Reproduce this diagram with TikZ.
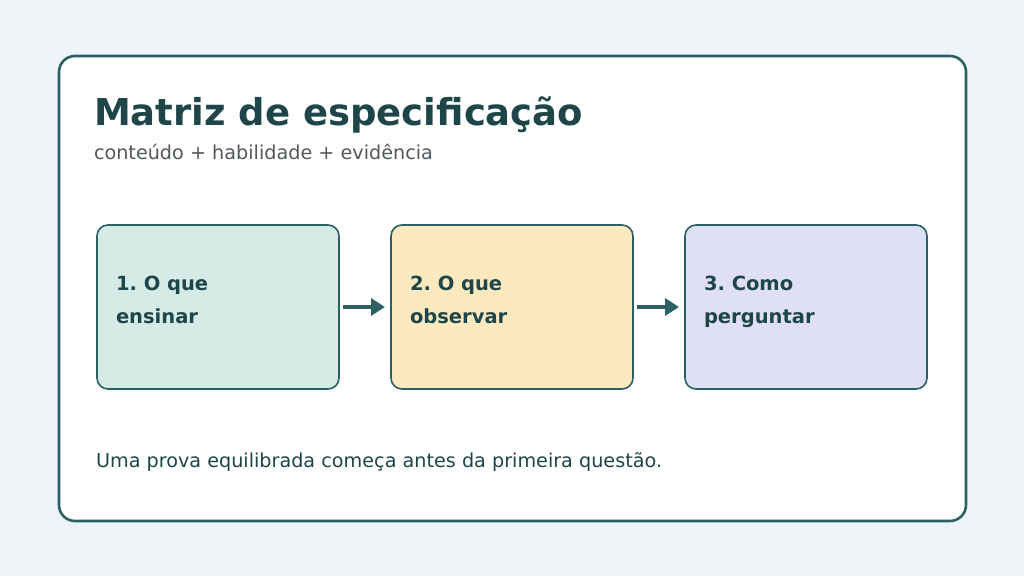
\documentclass[tikz,border=0pt]{standalone}
\usepackage{fontspec}
\setmainfont{DejaVu Sans}
\frenchspacing
\usetikzlibrary{positioning,arrows.meta}

\definecolor{pagebg}{HTML}{EEF4F8}
\definecolor{edge}{HTML}{2D6062}
\definecolor{ink}{HTML}{1E4548}
\definecolor{muted}{HTML}{52585C}
\definecolor{mint}{HTML}{D5EBE6}
\definecolor{sand}{HTML}{FDE9BF}
\definecolor{lilac}{HTML}{E0E0F5}

\begin{document}
\begin{tikzpicture}[
x=1pt, y=-1pt,
node distance=52pt,
every node/.style={inner sep=0pt, outer sep=0pt},
stepbox/.style={
draw=edge,
line width=1.6pt,
rounded corners=11pt,
minimum width=242pt,
minimum height=164pt
},
steptext/.style={
text=ink,
font=\bfseries\fontsize{19.5}{33}\selectfont,
align=left,
anchor=base west
},
flow/.style={
->,
draw=edge,
line width=4.5pt,
shorten <=4pt,
shorten >=6pt
},
>={Triangle[length=14pt,width=17pt]}
]

% page and panel
\fill[pagebg] (0,0) rectangle (1024,576);
\draw[fill=white, draw=edge, line width=2.6pt, rounded corners=16pt]
(59,56) rectangle (966,521);

\node[anchor=base west, text=ink, font=\bfseries\fontsize{37}{40}\selectfont]
(title) at (94,125) {Matriz de especificação};
\node[anchor=base west, text=muted, font=\fontsize{19.2}{22}\selectfont]
(subtitle) at (94,159) {conteúdo + habilidade + evidência};

% the three steps
\node[stepbox, fill=mint] (ensinar) at (218,307) {};
\node[stepbox, fill=sand, right=of ensinar] (observar) {};
\node[stepbox, fill=lilac, right=of observar] (perguntar) {};

\node[steptext] (ensinarlbl) at ([xshift=19pt, yshift=-16pt] ensinar.west) {1. O que\\ensinar};
\node[steptext] (observarlbl) at ([xshift=19pt, yshift=-16pt] observar.west) {2. O que\\observar};
\node[steptext] (perguntarlbl) at ([xshift=19pt, yshift=-16pt] perguntar.west) {3. Como\\perguntar};

\draw[flow] (ensinar) -- (observar);
\draw[flow] (observar) -- (perguntar);

\node[anchor=base west, text=ink, font=\fontsize{19.2}{22}\selectfont]
(note) at (96,467) {Uma prova equilibrada começa antes da primeira questão.};

\end{tikzpicture}
\end{document}
